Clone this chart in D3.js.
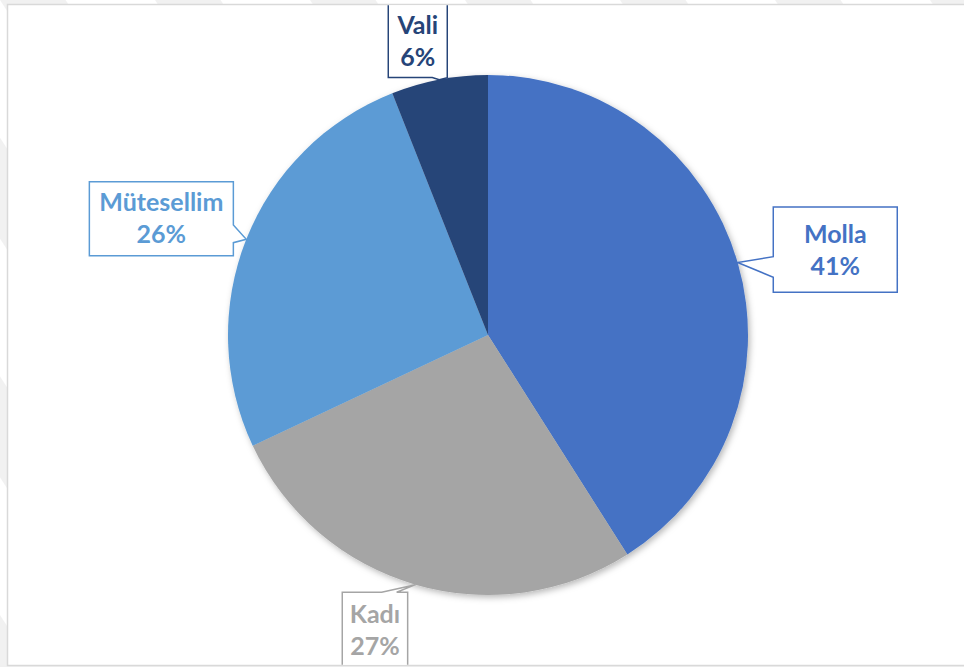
<!DOCTYPE html>
<html>
<head>
<meta charset="utf-8">
<script src="https://cdn.jsdelivr.net/npm/d3@7"></script>
<style>
  html, body { margin: 0; padding: 0; background: #ffffff; }
  svg { display: block; }
</style>
</head>
<body>
<script>
// ---- data ----
const categories = ["Molla", "Kadı", "Mütesellim", "Vali"];
const values = [41, 27, 26, 6];
const percentLabels = ["41%", "27%", "26%", "6%"];

// ---- styles / layout ----
const colors = ["#4472C4", "#A5A5A5", "#5B9BD5", "#264478"];
const W = 964, H = 667;
const cx = 488, cy = 335, R = 260;
// callout boxes relative to the slice's outer mid point (tip)
const labelLayout = [
  { dx: 35.6,  dy: -55.5, w: 124,  h: 85.3, side: "left",   a: 49.7, b: 70.3, ty: 36.3 },
  { dx: -73.2, dy: 7.6,   w: 65.4, h: 90,   side: "top",    a: 39.4, b: 54.4, ty: 31.0 },
  { dx: -156.9,dy: -57.6, w: 144,  h: 74,   side: "right",  a: 43.3, b: 61.0, ty: 29.0 },
  { dx: -51,   dy: -80,   w: 59,   h: 78,   side: "bottom", a: 44,   b: 59,   ty: 34.7 }
];
const lineGap = 32;
const fontFamily = "Lato, 'Open Sans', sans-serif";
const fontSize = 25;

const svg = d3.select("body").append("svg").attr("width", W).attr("height", H);
const defs = svg.append("defs");

// faint background stripes (outside the chart frame)
const pat = defs.append("pattern")
  .attr("id", "stripes").attr("patternUnits", "userSpaceOnUse")
  .attr("width", 130).attr("height", 130)
  .attr("patternTransform", "rotate(-33)");
pat.append("rect").attr("x", 0).attr("y", 0).attr("width", 55).attr("height", 130).attr("fill", "#f1f1f1");
svg.append("rect").attr("width", W).attr("height", H).attr("fill", "#ffffff");
svg.append("rect").attr("width", W).attr("height", H).attr("fill", "url(#stripes)");

// chart frame
const frame = { x: 7.5, y: 4.5, w: W + 10, h: 661 };
svg.append("rect").attr("x", 0).attr("y", 665).attr("width", W).attr("height", 2).attr("fill", "#f0f0f0");
svg.append("rect")
  .attr("x", frame.x).attr("y", frame.y).attr("width", frame.w).attr("height", frame.h)
  .attr("fill", "#ffffff").attr("stroke", "#d9d9d9").attr("stroke-width", 1.5);

defs.append("clipPath").attr("id", "chartClip")
  .append("rect").attr("x", frame.x + 0.75).attr("y", frame.y + 0.75)
  .attr("width", frame.w).attr("height", frame.h - 1.5);

const shadow = defs.append("filter").attr("id", "shadow")
  .attr("x", "-10%").attr("y", "-10%").attr("width", "120%").attr("height", "120%");
shadow.append("feDropShadow").attr("dx", 2).attr("dy", 2.5).attr("stdDeviation", 3)
  .attr("flood-color", "#000").attr("flood-opacity", 0.28);

const data = categories.map((c, i) => ({ name: c, value: values[i], pct: percentLabels[i], color: colors[i], layout: labelLayout[i] }));

const pie = d3.pie().value(d => d.value).sort(null);
const arc = d3.arc().innerRadius(0).outerRadius(R);
const arcs = pie(data);

const g = svg.append("g").attr("clip-path", "url(#chartClip)");
const pieG = g.append("g").attr("transform", `translate(${cx},${cy})`).attr("filter", "url(#shadow)");
pieG.selectAll("path").data(arcs).join("path")
  .attr("d", arc)
  .attr("fill", d => d.data.color);

// callouts
function calloutPath(tip, L) {
  const x = tip[0] + L.dx, y = tip[1] + L.dy, w = L.w, h = L.h;
  const p = d3.path();
  p.moveTo(x, y);
  if (L.side === "top") { p.lineTo(x + L.a, y); p.lineTo(tip[0], tip[1]); p.lineTo(x + L.b, y); }
  p.lineTo(x + w, y);
  if (L.side === "right") { p.lineTo(x + w, y + L.a); p.lineTo(tip[0], tip[1]); p.lineTo(x + w, y + L.b); }
  p.lineTo(x + w, y + h);
  if (L.side === "bottom") { p.lineTo(x + L.b, y + h); p.lineTo(tip[0], tip[1]); p.lineTo(x + L.a, y + h); }
  p.lineTo(x, y + h);
  if (L.side === "left") { p.lineTo(x, y + L.b); p.lineTo(tip[0], tip[1]); p.lineTo(x, y + L.a); }
  p.closePath();
  return p.toString();
}

const labelG = g.append("g");
arcs.forEach(a => {
  const mid = (a.startAngle + a.endAngle) / 2;
  const tip = [cx + R * Math.sin(mid), cy - R * Math.cos(mid)];
  const L = a.data.layout;
  labelG.append("path")
    .attr("d", calloutPath(tip, L))
    .attr("fill", "#ffffff")
    .attr("stroke", a.data.color)
    .attr("stroke-width", 1.5)
    .attr("stroke-linejoin", "miter");
  const bx = tip[0] + L.dx + L.w / 2, by = tip[1] + L.dy;
  const t = labelG.append("text")
    .attr("text-anchor", "middle")
    .attr("font-family", fontFamily)
    .attr("font-weight", "bold")
    .attr("font-size", fontSize)
    .attr("fill", a.data.color);
  t.append("tspan").attr("x", bx).attr("y", by + L.ty).text(a.data.name);
  t.append("tspan").attr("x", bx).attr("y", by + L.ty + lineGap).text(a.data.pct);
});
</script>
</body>
</html>
